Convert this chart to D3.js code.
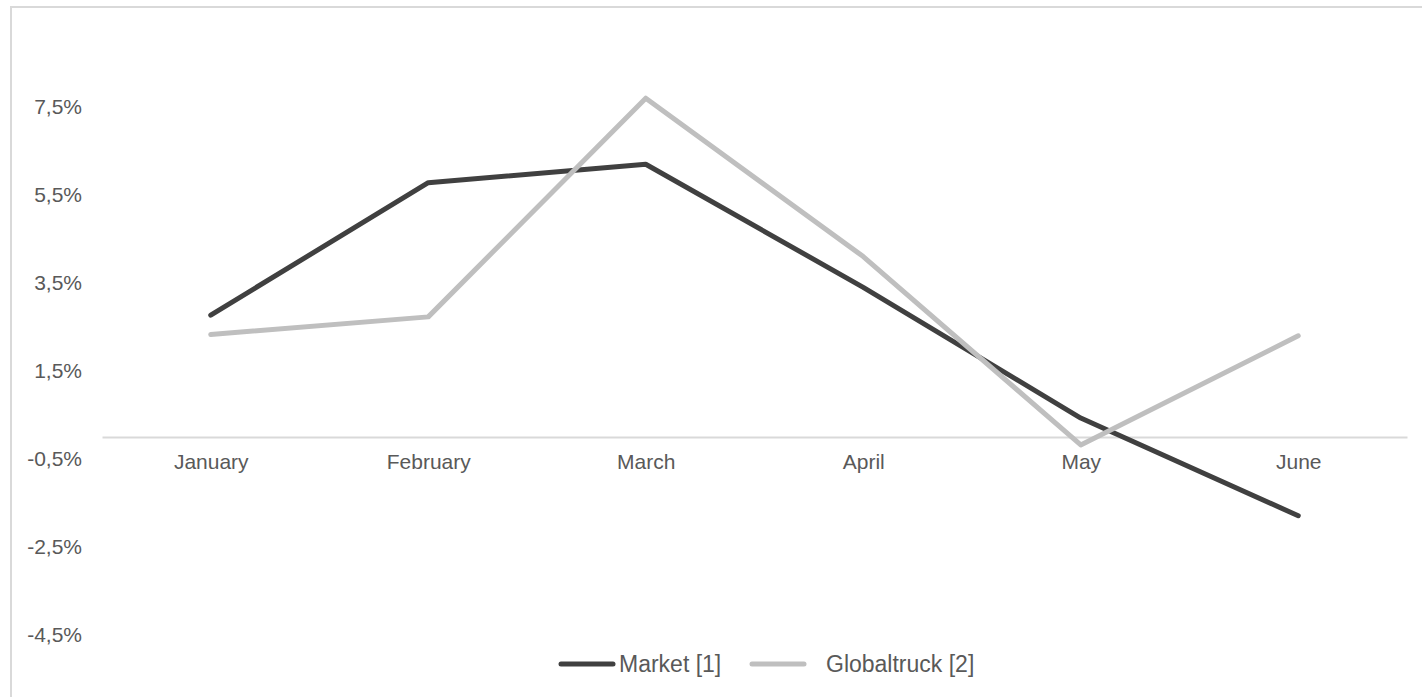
<!DOCTYPE html>
<html>
<head>
<meta charset="utf-8">
<script src="https://cdn.jsdelivr.net/npm/d3@7"></script>
<style>
  html, body { margin: 0; padding: 0; background: #ffffff; }
  svg { display: block; font-family: "Liberation Sans", Arial, sans-serif; }
</style>
</head>
<body>
<svg id="chart" width="1422" height="697"></svg>
<script>
// Monthly growth, in percent
const months = ["January", "February", "March", "April", "May", "June"];
const marketValues = [2.77, 5.78, 6.20, 3.40, 0.43, -1.79];
const globaltruckValues = [2.33, 2.73, 7.70, 4.10, -0.18, 2.30];
const yTickValues = [-4.5, -2.5, -0.5, 1.5, 3.5, 5.5, 7.5];
const seriesNames = ["Market [1]", "Globaltruck [2]"];
const seriesColors = ["#404040", "#bfbfbf"];

const series = [
  { name: seriesNames[0], values: marketValues, color: seriesColors[0] },
  { name: seriesNames[1], values: globaltruckValues, color: seriesColors[1] }
];

const svg = d3.select("#chart");
const textColor = "#595959";

// Outer chart frame
svg.append("rect")
  .attr("x", 11).attr("y", 7)
  .attr("width", 1440).attr("height", 720)
  .attr("fill", "none")
  .attr("stroke", "#d9d9d9")
  .attr("stroke-width", 2);

const x = d3.scalePoint().domain(months).range([102, 1407]).padding(0.5);
const y = d3.scaleLinear().domain([-4.5, 7.5]).range([635, 107]);

// Percent with decimal comma and a plain hyphen for negatives
const pct = d => (d < 0 ? "-" : "") + Math.abs(d).toFixed(1).replace(".", ",") + "%";

// Value axis labels (no line, no gridlines)
const yAxis = svg.append("g")
  .attr("transform", "translate(102,0)")
  .call(d3.axisLeft(y)
    .tickValues(yTickValues)
    .tickSize(0)
    .tickPadding(20)
    .tickFormat(pct));
yAxis.select(".domain").remove();
yAxis.selectAll("text")
  .attr("fill", textColor)
  .attr("font-size", 21)
  .attr("font-family", "Liberation Sans, Arial, sans-serif");

// Category axis along zero
const xAxis = svg.append("g")
  .attr("transform", `translate(0,${y(0)})`)
  .call(d3.axisBottom(x).tickSize(0).tickPadding(17).tickSizeOuter(0));
xAxis.select(".domain")
  .attr("stroke", "#d9d9d9")
  .attr("stroke-width", 2);
xAxis.selectAll("text")
  .attr("fill", textColor)
  .attr("font-size", 21)
  .attr("font-family", "Liberation Sans, Arial, sans-serif");

// Series lines
const line = d3.line()
  .x((d, i) => x(months[i]))
  .y(d => y(d));

svg.append("g").selectAll("path")
  .data(series)
  .join("path")
  .attr("d", s => line(s.values))
  .attr("fill", "none")
  .attr("stroke", s => s.color)
  .attr("stroke-width", 5)
  .attr("stroke-linejoin", "round")
  .attr("stroke-linecap", "round");

// Legend
const legendY = 664;
const legendItems = [
  { lineX: 561, textX: 619 },
  { lineX: 752, textX: 826 }
];
const legend = svg.append("g");
series.forEach((s, i) => {
  const pos = legendItems[i];
  legend.append("line")
    .attr("x1", pos.lineX).attr("x2", pos.lineX + 52)
    .attr("y1", legendY).attr("y2", legendY)
    .attr("stroke", s.color)
    .attr("stroke-width", 5)
    .attr("stroke-linecap", "round");
  legend.append("text")
    .attr("x", pos.textX)
    .attr("y", legendY)
    .attr("dy", "0.35em")
    .attr("fill", textColor)
    .attr("font-size", 23)
    .text(s.name);
});
</script>
</body>
</html>
